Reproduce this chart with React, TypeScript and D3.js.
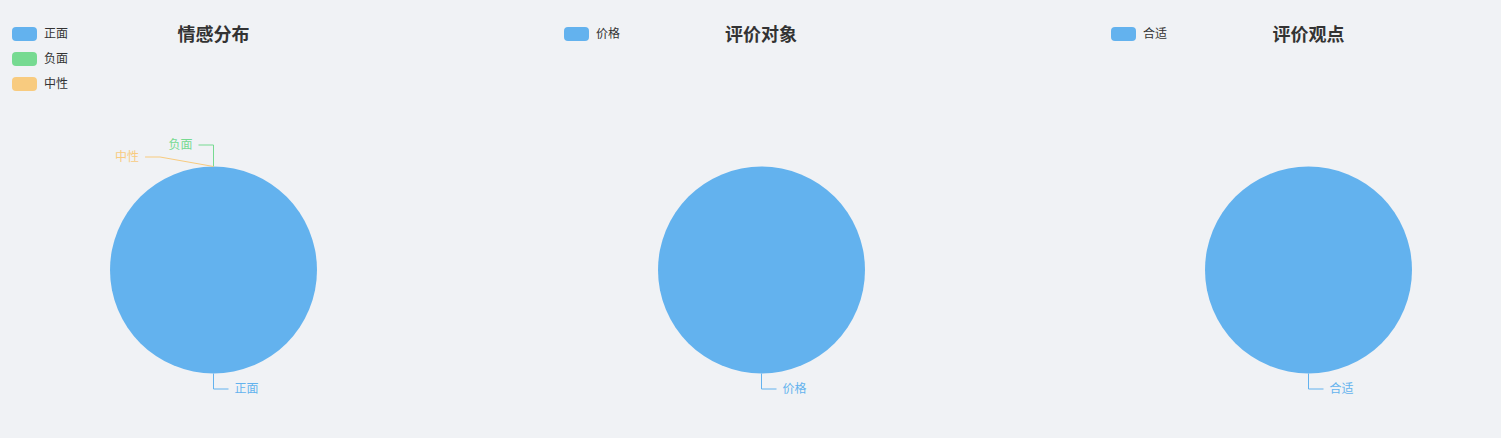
import React from "react";
import * as d3 from "d3";

const PALETTE = ["#63b2ee", "#76da91", "#f8cb7f", "#f89588", "#7cd6cf", "#9192ab"];

const sentimentNames = ["正面", "负面", "中性"];
const sentimentValues = [1, 0, 0];

const objectNames = ["价格"];
const objectValues = [1];

const opinionNames = ["合适"];
const opinionValues = [1];

const titles = ["情感分布", "评价对象", "评价观点"];

const W = 1501;
const H = 438;

const panels = [
  { title: titles[0], names: sentimentNames, values: sentimentValues, cx: 213.5, legendX: 12, titleX: 213.5 },
  { title: titles[1], names: objectNames, values: objectValues, cx: 761.5, legendX: 564, titleX: 761 },
  { title: titles[2], names: opinionNames, values: opinionValues, cx: 1308.5, legendX: 1111, titleX: 1308.5 },
];

const CY = 270;
const R = 103.5;
const LEN1 = 21.5;
const LEN2 = 15;
const LABEL_H = 12;
const MAX_Y = 389;
const FONT = "'Noto Sans CJK SC', 'Noto Sans', sans-serif";

type Lab = { name: string; color: string; px: number; py: number; ex: number; ey: number; side: number };

function layoutLabels(cx: number, names: string[], values: number[]): Lab[] {
  const pie = d3.pie<number>().sort(null).startAngle(0).endAngle(2 * Math.PI);
  const arcs = pie(values);
  const R2 = R + LEN1;
  const labs: Lab[] = arcs.map((a, i) => {
    const mid = (a.startAngle + a.endAngle) / 2;
    const s = Math.sin(mid);
    const c = Math.cos(mid);
    return {
      name: names[i],
      color: PALETTE[i % PALETTE.length],
      px: cx + s * R,
      py: CY - c * R,
      ex: cx + s * R2,
      ey: CY - c * R2,
      side: s > 0 ? 1 : -1,
    };
  });
  for (const side of [-1, 1]) {
    const group = labs.filter((l) => l.side === side).sort((a, b) => a.ey - b.ey);
    for (let i = 1; i < group.length; i++) {
      const prev = group[i - 1];
      const cur = group[i];
      if (cur.ey < prev.ey + LABEL_H) {
        cur.ey = prev.ey + LABEL_H;
        const dy = cur.ey - CY;
        cur.ex = cx + side * Math.sqrt(Math.max(0, R2 * R2 - dy * dy));
      }
    }
    group.forEach((l) => {
      if (l.ey > MAX_Y) l.ey = MAX_Y;
    });
  }
  return labs;
}

function Panel({ p }: { p: (typeof panels)[number] }) {
  const pie = d3.pie<number>().sort(null).startAngle(0).endAngle(2 * Math.PI);
  const arcs = pie(p.values);
  const arcGen = d3.arc<d3.PieArcDatum<number>>().innerRadius(0).outerRadius(R);
  const labs = layoutLabels(p.cx, p.names, p.values);
  return (
    <g>
      <text x={p.titleX} y={41} textAnchor="middle" fontSize={18} fontWeight="bold" fill="#333" fontFamily={FONT}>
        {p.title}
      </text>
      {p.names.map((n, i) => (
        <g key={n} transform={`translate(${p.legendX},${27 + i * 25})`}>
          <rect width={25} height={14} rx={4} fill={PALETTE[i % PALETTE.length]} />
          <text x={32} y={7} dy="0.35em" fontSize={12} fill="#333" fontFamily={FONT}>
            {n}
          </text>
        </g>
      ))}
      <g transform={`translate(${p.cx},${CY})`}>
        {arcs.map((a, i) =>
          a.endAngle - a.startAngle > 0 ? (
            <path key={i} d={arcGen(a) || ""} fill={PALETTE[i % PALETTE.length]} />
          ) : null
        )}
      </g>
      {labs.map((l, i) => {
        const endX = l.ex + l.side * LEN2;
        return (
          <g key={i}>
            <polyline
              points={`${l.px},${l.py} ${l.ex},${l.ey} ${endX},${l.ey}`}
              fill="none"
              stroke={l.color}
              strokeWidth={1}
            />
            <text
              x={endX + l.side * 6}
              y={l.ey}
              dy="0.35em"
              textAnchor={l.side > 0 ? "start" : "end"}
              fontSize={12}
              fill={l.color}
              fontFamily={FONT}
            >
              {l.name}
            </text>
          </g>
        );
      })}
    </g>
  );
}

export default function App() {
  return (
    <div style={{ position: "fixed", left: 0, top: 0, width: W, height: H, background: "#f0f2f5" }}>
      <svg width={W} height={H} style={{ display: "block" }}>
        <rect width={W} height={H} fill="#f0f2f5" />
        {panels.map((p) => (
          <Panel key={p.title} p={p} />
        ))}
      </svg>
    </div>
  );
}
